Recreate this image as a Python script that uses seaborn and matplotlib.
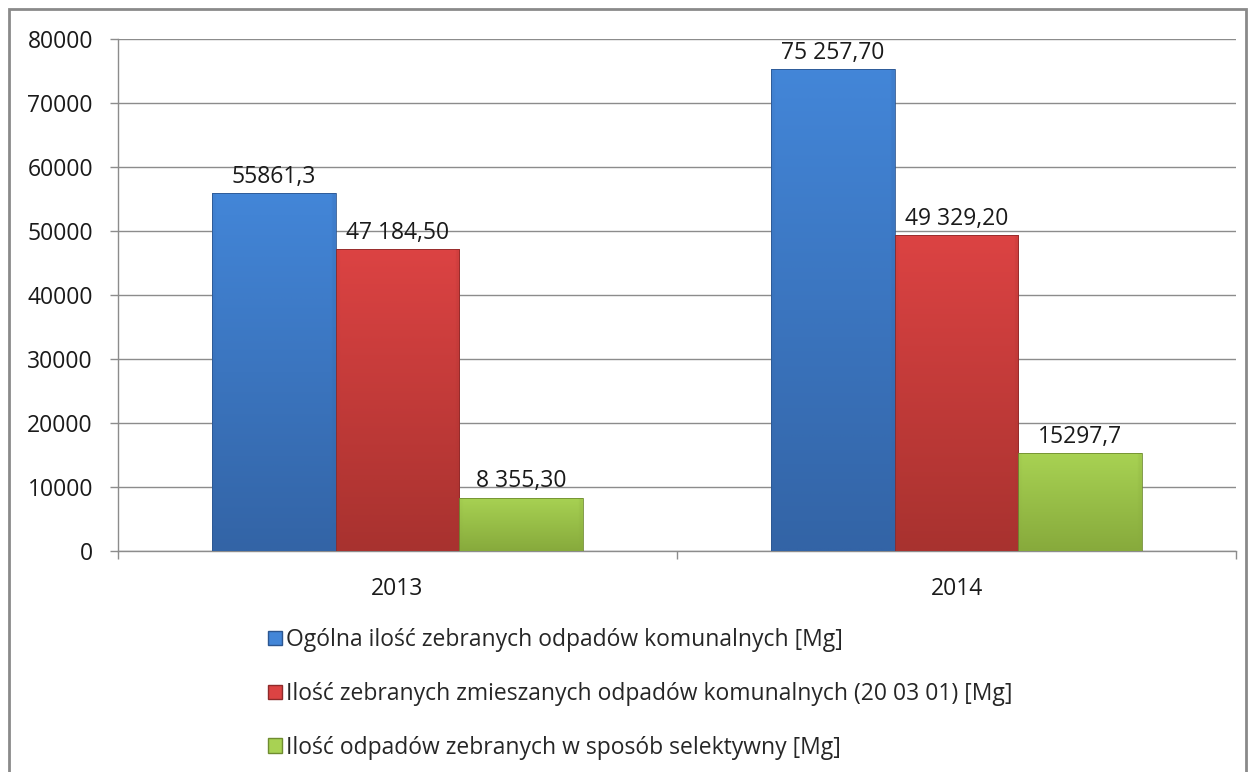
import numpy as np
import pandas as pd
import matplotlib.pyplot as plt
import seaborn as sns
from matplotlib.colors import LinearSegmentedColormap
from matplotlib.patches import Patch, Rectangle

years = ["2013", "2014"]
series = [
    "Ogólna ilość zebranych odpadów komunalnych [Mg]",
    "Ilość zebranych zmieszanych odpadów komunalnych (20 03 01) [Mg]",
    "Ilość odpadów zebranych w sposób selektywny [Mg]",
]
ogolna = [55861.3, 75257.7]
zmieszane = [47184.5, 49329.2]
selektywne = [8355.3, 15297.7]
labels_2013 = ["55861,3", "47 184,50", "8 355,30"]
labels_2014 = ["75 257,70", "49 329,20", "15297,7"]

# kolory: góra / dół gradientu
top_cols = ["#4386d8", "#dc4343", "#a8d253"]
bot_cols = ["#3364a6", "#a8322f", "#87aa3c"]
edge_cols = ["#2c5690", "#8e2a2a", "#6f8c30"]

df = pd.DataFrame({
    "rok": years * 3,
    "seria": [s for s in series for _ in years],
    "wartosc": ogolna + zmieszane + selektywne,
})

sns.set_style("white")
plt.rcParams["font.family"] = ["Open Sans", "DejaVu Sans"]
fs = 16.5

fig = plt.figure(figsize=(12.54, 7.72), dpi=100)
ax = fig.add_axes([118 / 1254, 1 - 551 / 772, (1236 - 118) / 1254, (551 - 39) / 772])

sns.barplot(data=df, x="rok", y="wartosc", hue="seria", hue_order=series,
            palette=top_cols, width=0.665, gap=0, ax=ax, legend=False,
            errorbar=None, zorder=3)

ax.set_xlim(-0.5, 1.5)
ax.set_ylim(0, 80000)

# gradient w słupkach (ciemniej na dole, ciemniejsze boki)
patches = [p for p in ax.patches if p.get_height() > 0]
patches.sort(key=lambda p: p.get_x())
order = [0, 1, 2, 0, 1, 2]
for p, i in zip(patches, order):
    x0, w, h = p.get_x(), p.get_width(), p.get_height()
    cmap = LinearSegmentedColormap.from_list("g", [bot_cols[i], top_cols[i], "#ffffff"])
    grad = np.linspace(0, 0.5, 256).reshape(-1, 1)
    img = np.repeat(grad, 64, axis=1)
    img[:, :2] *= 0.9
    img[:, -2:] *= 0.8
    im = ax.imshow(img, extent=[x0, x0 + w, 0, h], origin="lower", aspect="auto",
                   cmap=cmap, vmin=0, vmax=1, zorder=3, interpolation="bilinear")
    im.set_clip_path(p)
    p.set_facecolor("none")
    p.set_edgecolor(edge_cols[i])
    p.set_linewidth(0.6)
    p.set_zorder(4)

ax.set_xlim(-0.5, 1.5)
ax.set_ylim(0, 80000)

all_labels = labels_2013 + labels_2014
for p, lab in zip(patches, all_labels):
    ax.annotate(lab, (p.get_x() + p.get_width() / 2, p.get_height()),
                xytext=(0, 3), textcoords="offset points", ha="center", va="bottom",
                fontsize=fs, color="#1a1a1a", zorder=5)

grid_col = "#8c8c8c"
ax.set_yticks(range(0, 80001, 10000))
ax.yaxis.grid(True, color=grid_col, linewidth=1)
ax.set_axisbelow(True)
for s in ["top", "right"]:
    ax.spines[s].set_visible(False)
for s in ["left", "bottom"]:
    ax.spines[s].set_color(grid_col)
    ax.spines[s].set_linewidth(1)

ax.tick_params(axis="y", direction="out", length=6, width=1, color=grid_col,
               pad=12, labelsize=fs, labelcolor="#1a1a1a", left=True)
ax.set_xticks([0, 1])
ax.set_xticklabels(years)
ax.set_xticks([-0.5, 0.5, 1.5], minor=True)
ax.tick_params(axis="x", which="major", length=0, pad=19, labelsize=fs, labelcolor="#1a1a1a")
ax.tick_params(axis="x", which="minor", direction="out", length=6, width=1, color=grid_col, bottom=True)
ax.set_xlabel("")
ax.set_ylabel("")

handles = [Patch(facecolor=top_cols[i], edgecolor=edge_cols[i]) for i in range(3)]
fig.legend(handles, series, loc="upper left", bbox_to_anchor=(259 / 1254, 1 - 619 / 772),
           frameon=False, fontsize=fs, handlelength=0.6, handleheight=0.6,
           handletextpad=0.2, labelspacing=1.3, borderaxespad=0)

fig.patches.append(Rectangle((9 / 1254, -0.01), (1246 - 9) / 1254, 1 - 9 / 772 + 0.01,
                             transform=fig.transFigure, fill=False,
                             edgecolor="#8a8a8a", linewidth=2, zorder=10))

fig.savefig("out.png", dpi=100)
